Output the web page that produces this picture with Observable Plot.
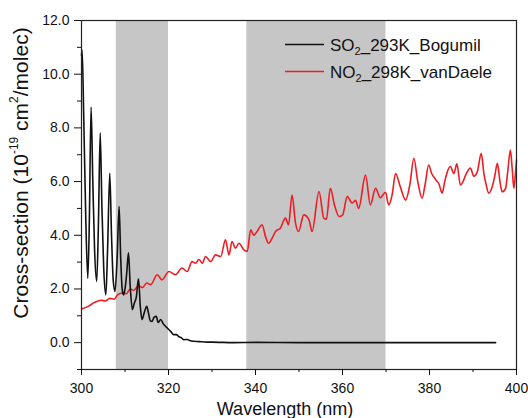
<!DOCTYPE html>
<html><head><meta charset="utf-8">
<script src="https://cdn.jsdelivr.net/npm/d3@7"></script>
<script src="https://cdn.jsdelivr.net/npm/@observablehq/plot@0.6"></script>
<style>html,body{margin:0;padding:0;background:#fff;} svg{display:block}</style>
</head><body><div id="chart"></div>
<script>
// SO2 293K (Bogumil) cross-section, 1e-19 cm2/molec
const so2Wavelength = [300.0,300.15,300.5,301.0,301.45,301.8,302.2,302.6,303.0,303.5,303.9,304.3,304.7,305.1,305.6,306.0,306.5,306.9,307.3,307.7,308.2,308.65,309.0,309.35,309.65,310.0,310.4,310.8,311.2,311.7,312.1,312.6,313.1,313.5,313.9,314.4,315.0,315.4,315.8,316.2,316.7,317.2,317.6,318.2,318.8,319.5,320.0,320.5,321.2,321.8,322.4,323.0,323.5,324.3,325.0,325.8,327.0,328.8,330.0,335.0,340.0,350.0,360.0,370.0,380.0,390.0,395.2];
const so2Value      = [10.7,10.9,8.5,4.5,2.4,4.5,8.78,6.0,3.5,2.28,4.5,7.82,5.0,2.8,1.78,3.5,6.31,4.0,2.3,1.91,3.2,5.07,3.2,2.0,1.78,2.0,2.6,3.35,2.1,1.23,1.45,1.7,2.38,1.4,0.86,1.1,1.35,1.1,0.82,0.79,0.95,0.98,0.75,0.86,0.7,0.58,0.5,0.42,0.3,0.3,0.22,0.18,0.11,0.12,0.07,0.05,0.04,0.02,0.02,0.0,0.01,0.0,0.0,0.0,0.0,0.0,0.0];
// NO2 298K (vanDaele) cross-section
const no2Wavelength = [300.0,301.5,303.0,304.5,305.5,306.5,307.5,308.3,309.3,310.3,311.2,312.0,313.1,314.0,315.0,315.9,317.4,318.5,320.1,321.6,323.1,324.3,325.4,326.2,327.0,327.8,328.5,329.7,330.8,332.0,333.1,333.9,334.6,335.4,336.2,337.3,338.1,338.9,339.6,340.2,341.5,342.3,343.0,344.0,344.6,345.7,346.9,347.6,348.4,349.2,349.9,351.1,352.3,353.0,354.6,355.7,356.3,357.2,358.2,359.2,360.0,361.1,362.2,363.0,363.7,365.3,366.4,367.6,368.7,369.9,370.6,371.4,372.2,373.3,374.5,375.5,376.4,377.3,378.3,379.0,379.8,380.5,381.4,382.2,382.9,383.5,384.1,384.8,385.6,386.3,387.1,387.7,388.3,389.4,390.2,391.0,391.9,392.5,393.0,393.6,394.4,395.0,395.6,396.2,396.7,397.5,398.0,398.6,399.0,399.4,399.7,400.0];
const no2Value      = [1.25,1.35,1.5,1.58,1.55,1.65,1.62,1.78,1.85,1.82,2.0,1.95,2.12,2.05,2.22,2.16,2.53,2.34,2.65,2.53,2.78,2.65,3.02,2.96,3.1,2.96,3.21,3.02,3.27,3.21,3.83,3.27,3.77,3.52,3.7,3.46,3.4,4.2,4.0,4.1,4.39,3.95,3.7,3.95,4.14,4.26,4.64,4.39,5.5,4.45,4.14,4.76,4.57,4.14,5.63,4.64,4.6,5.75,5.1,4.7,4.75,5.45,5.2,5.3,5.0,6.24,5.13,5.75,5.4,5.6,5.13,5.5,6.3,5.8,5.31,5.9,6.87,6.0,5.38,5.9,6.62,6.3,6.08,5.9,5.57,6.0,6.37,6.56,6.3,6.66,5.87,6.0,6.24,6.5,6.2,6.37,7.05,6.3,5.9,5.57,5.8,6.2,6.68,6.0,5.62,5.75,6.4,7.17,6.5,5.75,6.2,6.8];
// shaded wavelength windows
const bandStart = [308, 338];
const bandEnd   = [320, 370];
// ticks
const xTicks = [300, 320, 340, 360, 380, 400];
const xMinorTicks = [310, 330, 350, 370, 390];
const yTicks = [0, 2, 4, 6, 8, 10, 12];
const yMinorTicks = [-1, 1, 3, 5, 7, 9, 11];
// legend / labels
const seriesBase = ["SO", "NO"];
const seriesSuffix = ["_293K_Bogumil", "_298K_vanDaele"];
const seriesColor = ["#111111", "#ee1d23"];

const so2 = so2Wavelength.map((w, i) => ({w, v: so2Value[i]}));
const no2 = no2Wavelength.map((w, i) => ({w, v: no2Value[i]}));
const bands = bandStart.map((s, i) => ({s, e: bandEnd[i]}));

const font = "Arial, 'Liberation Sans', sans-serif";
const plot = Plot.plot({
  width: 528, height: 418,
  marginLeft: 81, marginRight: 12, marginTop: 20, marginBottom: 49,
  style: {fontFamily: font, fontSize: "14px", color: "#111", background: "#fff"},
  x: {domain: [300, 400]},
  y: {domain: [-1, 12]},
  marks: [
    Plot.rect(bands, {x1: "s", x2: "e", fill: "#c6c6c6"}),
    Plot.line(no2, {x: "w", y: "v", stroke: seriesColor[1], strokeWidth: 1.6, curve: "monotone-x"}),
    Plot.line(so2, {x: "w", y: "v", stroke: seriesColor[0], strokeWidth: 1.6, curve: "monotone-x"}),
    Plot.frame({stroke: "#222", strokeWidth: 1.2}),
    Plot.axisX(xTicks, {tickSize: 6, tickPadding: 8, label: null, fontSize: 14}),
    Plot.axisX(xMinorTicks, {tickSize: 3, tickFormat: () => "", label: null}),
    Plot.axisY(yTicks, {tickSize: 7, tickPadding: 5, tickFormat: d => d.toFixed(1), label: null, fontSize: 14}),
    Plot.axisY(yMinorTicks, {tickSize: 4, tickFormat: () => "", label: null})
  ]
});
document.getElementById("chart").appendChild(plot);

const svg = d3.select(plot);
// x label
svg.append("text").attr("x", 285).attr("y", 415).attr("text-anchor", "middle")
  .attr("font-family", font).attr("font-size", 18).attr("fill", "#111").text("Wavelength (nm)");
// y label
const yl = svg.append("text").attr("transform", "translate(28,173) rotate(-90)")
  .attr("text-anchor", "middle").attr("font-family", font).attr("font-size", 21).attr("fill", "#111");
yl.append("tspan").text("Cross-section (10");
yl.append("tspan").attr("font-size", 12).attr("dy", -10).text("-19");
yl.append("tspan").attr("dy", 10).text(" cm");
yl.append("tspan").attr("font-size", 12).attr("dy", -10).text("2");
yl.append("tspan").attr("dy", 10).text("/molec)");
// legend
const legY = [44.5, 71.5];
seriesBase.forEach((b, i) => {
  svg.append("line").attr("x1", 285).attr("x2", 324).attr("y1", legY[i]).attr("y2", legY[i])
    .attr("stroke", seriesColor[i]).attr("stroke-width", 1.5);
  const t = svg.append("text").attr("x", 330).attr("y", legY[i] + 6).attr("text-anchor", "start")
    .attr("font-family", font).attr("font-size", 17).attr("fill", "#111");
  t.append("tspan").text(b);
  t.append("tspan").attr("font-size", 11).attr("dy", 4).text("2");
  t.append("tspan").attr("dy", -4).text(seriesSuffix[i]);
});
</script>
</body></html>
